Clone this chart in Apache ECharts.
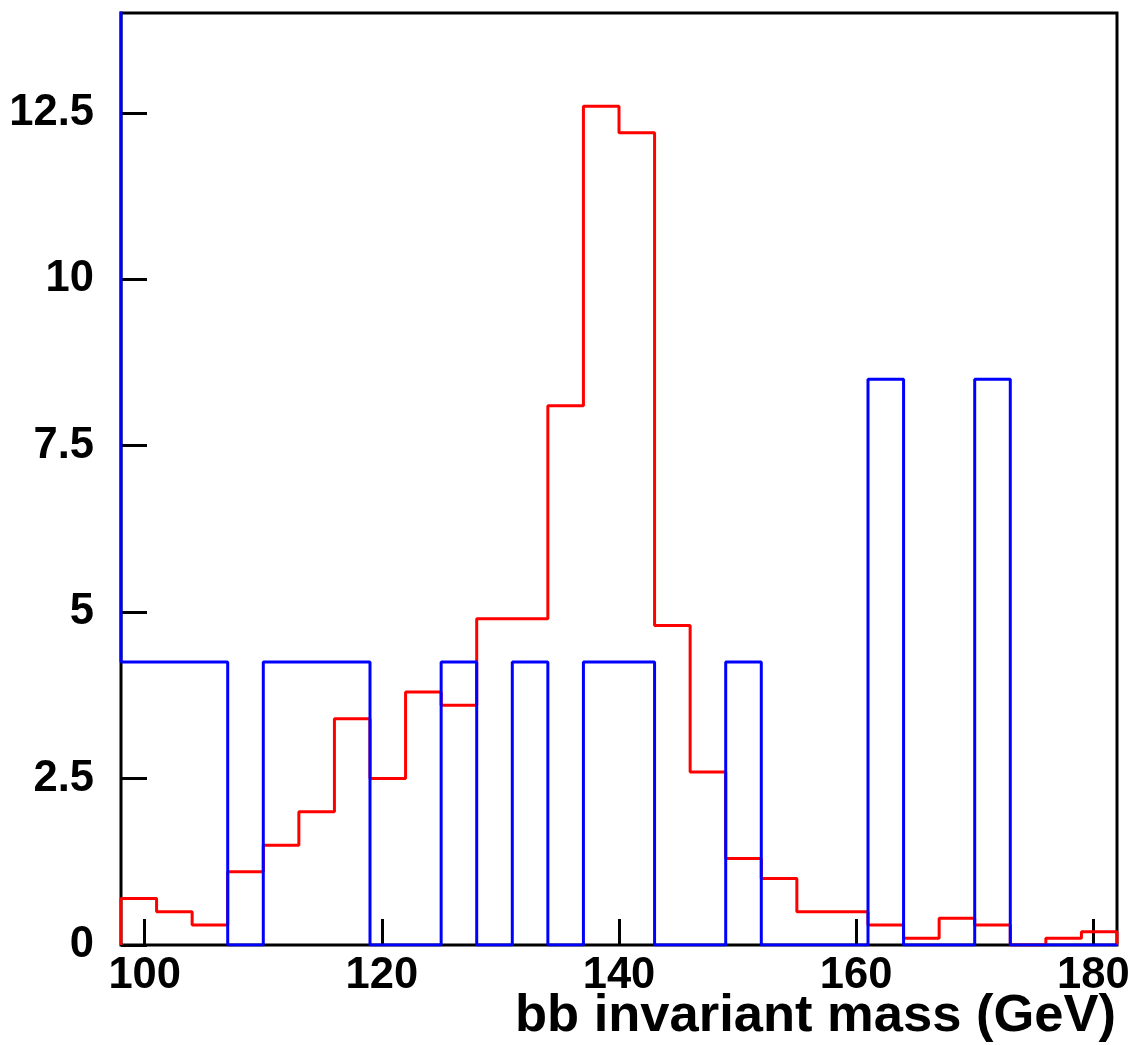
<!DOCTYPE html>
<html>
<head>
<meta charset="utf-8">
<script src="https://cdn.jsdelivr.net/npm/echarts@6/dist/echarts.min.js"></script>
<style>
html,body{margin:0;padding:0;background:#fff;}
#chart{width:1134px;height:1045px;}
</style>
</head>
<body>
<div id="chart"></div>
<script>
// Bin low edges (GeV), bin width 3
var binEdges = [98,101,104,107,110,113,116,119,122,125,128,131,134,137,140,143,146,149,152,155,158,161,164,167,170,173,176,179];
var upperEdge = 182;
// Red histogram contents
var redValues = [0.7,0.5,0.3,1.1,1.5,2.0,3.4,2.5,3.8,3.6,4.9,4.9,8.1,12.6,12.2,4.8,2.6,1.3,1.0,0.5,0.5,0.3,0.1,0.4,0.3,0,0.1,0.2];
// Blue histogram contents
var blueValues = [4.25,4.25,4.25,0,4.25,4.25,4.25,0,0,4.25,0,4.25,0,4.25,4.25,0,0,4.25,0,0,0,8.5,0,0,8.5,0,0,0];
// Blue off-scale bin just below the axis range (drawn clipped)
var blueUnderflowEdge = 95;
var blueUnderflowValue = 15;
// Axis ticks
var xTicks = [100,120,140,160,180];
var yMin = 0, yMax = 14, yStep = 2.5;
var xMin = 98, xMax = 182;
var xTitle = 'bb invariant mass (GeV)';

function histPoints(edges, values, upper, startPoint) {
  var pts = [startPoint];
  for (var i = 0; i < edges.length; i++) pts.push([edges[i], values[i]]);
  pts.push([upper, values[values.length - 1]]);
  pts.push([upper, 0]);
  return pts;
}

var redData = histPoints(binEdges, redValues, upperEdge, [binEdges[0], 0]);
var blueData = histPoints(binEdges, blueValues, upperEdge, [blueUnderflowEdge, blueUnderflowValue]);

var FONT = '"Liberation Sans", Arial, Helvetica, sans-serif';

var chart = echarts.init(document.getElementById('chart'), null, {renderer: 'canvas'});
chart.setOption({
  animation: false,
  backgroundColor: '#fff',
  title: {
    text: xTitle,
    right: 18,
    top: 990,
    padding: 0,
    textStyle: {fontFamily: FONT, fontWeight: 'bold', fontSize: 52.5, color: '#000'}
  },
  grid: {
    left: 121, right: 17, top: 13, bottom: 100,
    show: true, borderColor: '#000', borderWidth: 3, backgroundColor: '#fff'
  },
  xAxis: {
    type: 'value',
    min: xMin, max: xMax,
    axisLine: {show: false},
    splitLine: {show: false},
    axisTick: {show: true, inside: true, length: 26, customValues: xTicks, lineStyle: {color: '#000', width: 3}},
    axisLabel: {
      customValues: xTicks,
      margin: 9,
      fontFamily: FONT, fontWeight: 'bold', fontSize: 43.5, color: '#000'
    }
  },
  yAxis: {
    type: 'value',
    min: yMin, max: yMax, interval: yStep,
    axisLine: {show: false},
    splitLine: {show: false},
    axisTick: {show: true, inside: true, length: 26, lineStyle: {color: '#000', width: 3}},
    axisLabel: {
      showMaxLabel: false,
      margin: 27,
      fontFamily: FONT, fontWeight: 'bold', fontSize: 43.5, color: '#000'
    }
  },
  series: [
    {
      type: 'line', step: 'end', data: redData, showSymbol: false, symbol: 'none',
      clip: true, lineStyle: {color: '#ff0000', width: 3}, z: 3
    },
    {
      type: 'line', step: 'end', data: blueData, showSymbol: false, symbol: 'none',
      clip: true, lineStyle: {color: '#0000ff', width: 3}, z: 4
    }
  ]
});
</script>
</body>
</html>
